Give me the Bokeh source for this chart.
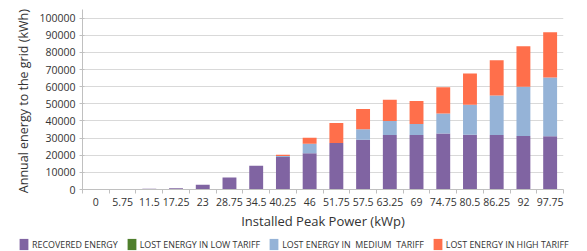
import numpy as np
from bokeh.plotting import figure
from bokeh.layouts import column
from bokeh.models import (ColumnDataSource, FixedTicker, Range1d, Legend, LegendItem,
                          NumeralTickFormatter)
from bokeh.embed import file_html
from bokeh.resources import INLINE

categories = ["0", "5.75", "11.5", "17.25", "23", "28.75", "34.5", "40.25", "46",
              "51.75", "57.5", "63.25", "69", "74.75", "80.5", "86.25", "92", "97.75"]
recovered = [0, 0, 400, 700, 2700, 7000, 13900, 19000, 21200, 27100, 29000, 31800,
             31800, 32600, 32000, 31800, 31200, 31000]
lost_low = [0] * 18
lost_medium = [0, 0, 0, 0, 0, 0, 0, 500, 5500, 0, 6100, 8200, 6400, 11700, 17500,
               23000, 28800, 34300]
lost_high = [0, 0, 0, 0, 0, 0, 0, 800, 3500, 11700, 11900, 12400, 13400, 15300,
             18100, 20600, 23600, 26500]
y_ticks = [0, 10000, 20000, 30000, 40000, 50000, 60000, 70000, 80000, 90000, 100000]
series_names = ["RECOVERED ENERGY", "LOST ENERGY IN LOW TARIFF",
                "LOST ENERGY IN  MEDIUM  TARIFF", "LOST ENERGY IN HIGH TARIFF"]
colors = ["#8064A2", "#4F7F2D", "#95B3D7", "#FF6F4B"]

n = len(categories)
centers = np.arange(n) + 0.5
source = ColumnDataSource(dict(x=centers, rec=recovered, low=lost_low,
                               med=lost_medium, high=lost_high))
stack_cols = ["rec", "low", "med", "high"]

FONT = "Open Sans"
TXT = "#333333"

p = figure(width=587, height=234, output_backend="svg", toolbar_location=None,
           x_range=Range1d(0, n), y_range=Range1d(0, 105000),
           min_border_left=82, min_border_right=24, min_border_top=9,
           min_border_bottom=45)
p.outline_line_color = None
p.background_fill_color = "white"
p.border_fill_color = "white"

renderers = p.vbar_stack(stack_cols, x="x", width=0.52,
                         color=colors, line_color=None, source=source)

# axes
p.xgrid.grid_line_color = None
p.ygrid.grid_line_color = "#d9d9d9"
p.ygrid.grid_line_width = 1
p.ygrid.ticker = FixedTicker(ticks=y_ticks)

p.yaxis.ticker = FixedTicker(ticks=y_ticks)
p.yaxis.formatter = NumeralTickFormatter(format="0")
p.yaxis.axis_line_color = "#c0c0c0"
p.yaxis.major_tick_line_color = "#c0c0c0"
p.yaxis.major_tick_in = 2
p.yaxis.major_tick_out = 3
p.yaxis.minor_tick_line_color = None
p.yaxis.major_label_text_font = FONT
p.yaxis.major_label_text_font_size = "10.5px"
p.yaxis.major_label_text_color = TXT
p.yaxis.major_label_standoff = 4
p.yaxis.axis_label = "Annual energy to the grid  (kWh)"
p.yaxis.axis_label_text_font = FONT
p.yaxis.axis_label_text_font_size = "12.5px"
p.yaxis.axis_label_text_font_style = "normal"
p.yaxis.axis_label_text_color = TXT
p.yaxis.axis_label_standoff = 4

p.xaxis.ticker = FixedTicker(ticks=list(centers), minor_ticks=list(range(n + 1)))
p.xaxis.major_label_overrides = {float(c): lab for c, lab in zip(centers, categories)}
p.xaxis.axis_line_color = "#c0c0c0"
p.xaxis.major_tick_line_color = None
p.xaxis.minor_tick_line_color = "#c0c0c0"
p.xaxis.minor_tick_in = 0
p.xaxis.minor_tick_out = 4
p.xaxis.major_tick_out = 4
p.xaxis.major_label_text_font = FONT
p.xaxis.major_label_text_font_size = "10.5px"
p.xaxis.major_label_text_color = TXT
p.xaxis.major_label_standoff = 4
p.xaxis.axis_label = "Installed Peak Power (kWp)"
p.xaxis.axis_label_text_font = FONT
p.xaxis.axis_label_text_font_size = "13px"
p.xaxis.axis_label_text_font_style = "normal"
p.xaxis.axis_label_text_color = TXT
p.xaxis.axis_label_standoff = 3

# legend strip below the chart (its glyphs lie outside its ranges: only the legend shows)
lp = figure(width=587, height=17, output_backend="svg", toolbar_location=None,
            x_range=Range1d(-1001, -1000), y_range=Range1d(-2, -1),
            min_border_left=0, min_border_right=0, min_border_top=0,
            min_border_bottom=0)
if "frame_align" in lp.properties():
    lp.frame_align = False
lp.axis.visible = False
lp.grid.visible = False
lp.outline_line_color = None
lp.border_fill_color = "white"
leg_renderers = lp.vbar_stack(stack_cols, x="x", width=0.52,
                              color=colors, line_color=None, source=source)
legend = Legend(items=[LegendItem(label=nm, renderers=[r])
                       for nm, r in zip(series_names, leg_renderers)],
                location=(18, 0), orientation="horizontal",
                padding=0, margin=0, spacing=8, border_line_color=None,
                background_fill_alpha=0, glyph_width=11, glyph_height=14,
                label_height=14, label_standoff=3,
                label_text_font=FONT, label_text_font_size="8.9px",
                label_text_color=TXT)
lp.add_layout(legend, "center")

layout = column(p, lp, spacing=0)
open("out.html", "w").write(file_html(layout, INLINE))
